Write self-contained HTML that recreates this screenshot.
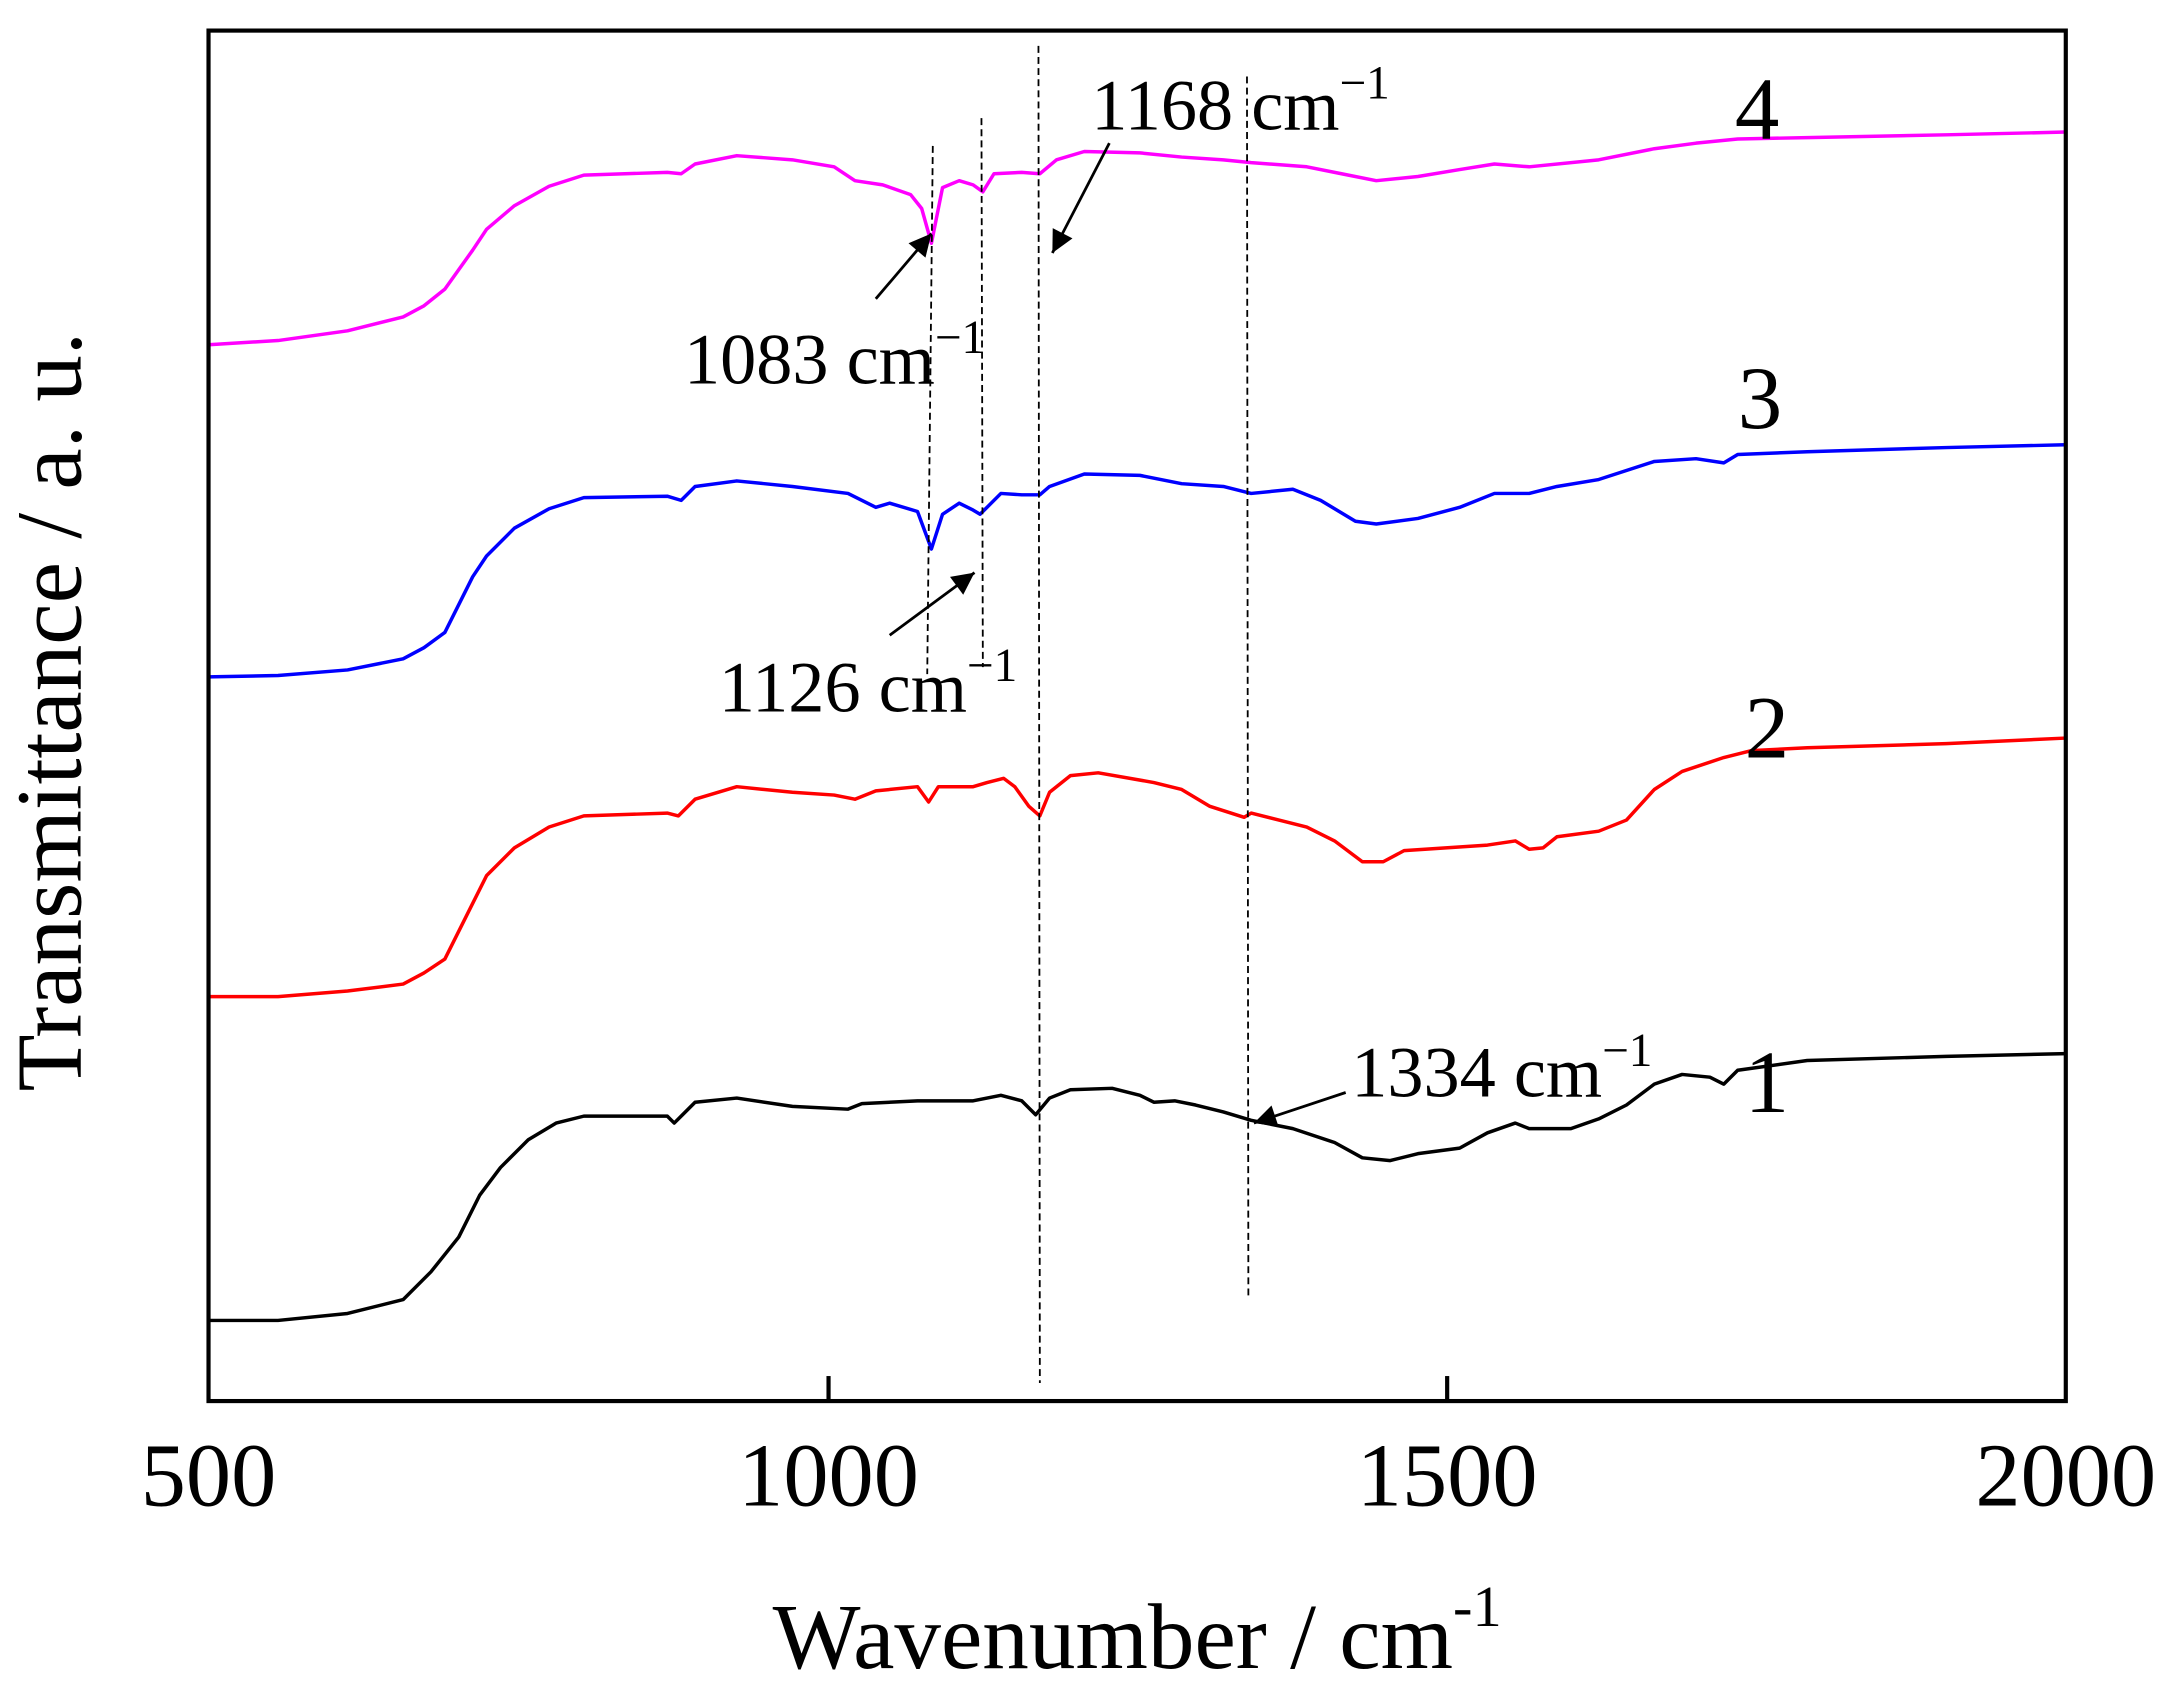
<!DOCTYPE html>
<html><head><meta charset="utf-8"><style>
html,body{margin:0;padding:0;background:#fff;}
svg{display:block;}
text{font-family:"Liberation Serif",serif;fill:#000;}
</style></head><body>
<svg width="2177" height="1686" viewBox="0 0 1566 1213" preserveAspectRatio="none" xmlns="http://www.w3.org/2000/svg">
<defs>
<marker id="ah2" viewBox="0 0 10 10" refX="10" refY="5" markerWidth="26" markerHeight="16" orient="auto" markerUnits="userSpaceOnUse"><path d="M0,0 L10,5 L0,10 z" fill="#000"/></marker></defs>
<g fill="none" stroke-width="2.5" stroke-linejoin="round">
<polyline stroke="#000" points="150,950 200,950 250,945 290,935 310,915 330,890 345,860 360,840 380,820 400,808 420,803 480,803 485,808 490,803 500,793 530,790 570,796 610,798 620,794 660,792 700,792 720,788 735,792 745,802 755,790 770,784 800,783 820,788 830,793 845,792 860,795 880,800 900,806 930,812 960,822 980,833 1000,835 1020,830 1050,826 1070,815 1090,808 1100,812 1130,812 1150,805 1170,795 1190,780 1210,773 1230,775 1240,780 1250,770 1300,763 1400,760 1486,758"/>
<polyline stroke="#ff0000" points="150,717 200,717 250,713 290,708 305,700 320,690 340,650 350,630 370,610 395,595 420,587 480,585 488,587 500,575 530,566 570,570 600,572 615,575 630,569 660,566 668,577 675,566 700,566 710,563 722,560 730,566 740,580 748,587 755,570 770,558 790,556 830,563 850,568 870,580 895,588 900,585 920,590 940,595 960,605 980,620 995,620 1010,612 1040,610 1070,608 1090,605 1100,611 1110,610 1120,602 1150,598 1170,590 1190,568 1210,555 1240,545 1260,540 1300,538 1400,535 1486,531"/>
<polyline stroke="#0000ff" points="150,487 200,486 250,482 290,474 305,466 320,455 340,415 350,400 370,380 395,366 420,358 480,357 490,360 500,350 530,346 570,350 610,355 630,365 640,362 660,368 670,395 678,370 690,362 700,367 705,370 720,355 735,356 748,356 755,350 780,341 820,342 850,348 880,350 900,355 930,352 950,360 975,375 990,377 1020,373 1050,365 1075,355 1100,355 1120,350 1150,345 1190,332 1220,330 1240,333 1250,327 1300,325 1400,322 1486,320"/>
<polyline stroke="#ff00ff" points="150,248 200,245 250,238 290,228 305,220 320,208 340,180 350,165 370,148 395,134 420,126 480,124 490,125 500,118 530,112 570,115 600,120 615,130 635,133 655,140 663,150 670,175 678,135 690,130 700,133 707,138 715,125 735,124 748,125 760,115 780,109 820,110 850,113 880,115 900,117 940,120 965,125 990,130 1020,127 1050,122 1075,118 1100,120 1150,115 1190,107 1220,103 1250,100 1300,99 1400,97 1486,95"/>
</g>
<g stroke="#000" stroke-width="1.3" stroke-dasharray="5,3">
<line x1="671" y1="105" x2="667" y2="485"/>
<line x1="706" y1="85" x2="707" y2="480"/>
<line x1="747" y1="33" x2="748" y2="995"/>
<line x1="897" y1="55" x2="898" y2="935"/>
</g>
<g stroke="#000" stroke-width="2">
<line x1="798" y1="103" x2="757" y2="182" marker-end="url(#ah2)"/>
<line x1="630" y1="215" x2="670" y2="168" marker-end="url(#ah2)"/>
<line x1="640" y1="457" x2="701" y2="412" marker-end="url(#ah2)"/>
<line x1="968" y1="786" x2="902" y2="808" marker-end="url(#ah2)"/>
</g>
<rect x="150" y="22" width="1336" height="986" fill="none" stroke="#000" stroke-width="3"/>
<g stroke="#000" stroke-width="3"><line x1="596" y1="1008" x2="596" y2="990"/><line x1="1041" y1="1008" x2="1041" y2="990"/></g>
<g font-size="65" text-anchor="middle">
<text x="150" y="1083">500</text><text x="596" y="1083">1000</text><text x="1041" y="1083">1500</text><text x="1486" y="1083">2000</text>
</g>
<text x="818" y="1200" font-size="67" text-anchor="middle">Wavenumber / cm<tspan font-size="42" dy="-30">-1</tspan></text>
<text transform="translate(58,512) rotate(-90)" font-size="67" text-anchor="middle">Transmittance / a. u.</text>
<g font-size="52">
<text x="785" y="93">1168 cm<tspan font-size="34" dy="-22">−1</tspan></text>
<text x="492" y="276">1083 cm<tspan font-size="34" dy="-22">−1</tspan></text>
<text x="517" y="512">1126 cm<tspan font-size="34" dy="-22">−1</tspan></text>
<text x="972" y="789">1334 cm<tspan font-size="34" dy="-22">−1</tspan></text>
</g>
<g font-size="64">
<text x="1248" y="100">4</text><text x="1250" y="308">3</text><text x="1255" y="545">2</text><text x="1255" y="800">1</text>
</g>
</svg>
</body></html>
